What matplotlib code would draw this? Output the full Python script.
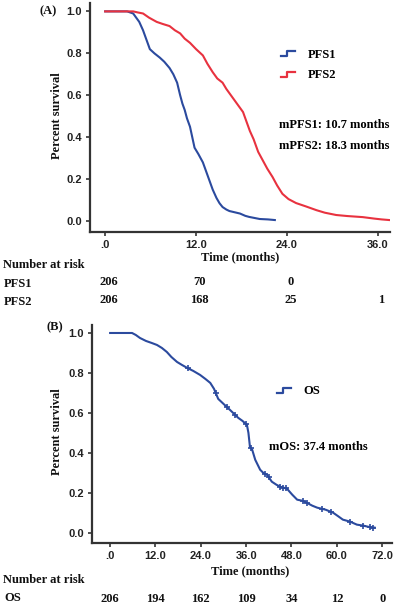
import numpy as np
import matplotlib
matplotlib.use("Agg")
import matplotlib.pyplot as plt
from matplotlib.lines import Line2D
from matplotlib.legend_handler import HandlerBase
from matplotlib.transforms import blended_transform_factory

# ---- data ----
pfs1_t = [0, 2.9, 3.3, 3.7, 4.1, 4.5, 5.0, 5.4, 5.9, 6.5, 7.2, 7.8, 8.5, 9.0, 9.5,
          9.9, 10.2, 10.5, 10.8, 11.2, 11.5, 11.8, 12.3, 12.9, 13.3, 13.8, 14.2,
          14.7, 15.1, 15.5, 16.0, 16.4, 17.1, 17.8, 18.5, 19.0, 19.7, 20.4, 21.5, 22.4]
pfs1_s = [1.0, 1.0, 0.995, 0.99, 0.97, 0.95, 0.91, 0.87, 0.82, 0.80, 0.78, 0.76, 0.73,
          0.70, 0.66, 0.60, 0.56, 0.53, 0.49, 0.45, 0.40, 0.35, 0.32, 0.28, 0.24, 0.19,
          0.15, 0.11, 0.085, 0.067, 0.055, 0.048, 0.042, 0.036, 0.025, 0.02, 0.015,
          0.01, 0.008, 0.005]

pfs2_t = [0, 3.7, 4.3, 5.0, 5.8, 6.8, 7.6, 8.5, 9.2, 9.9, 10.5, 11.2, 12.0, 12.9, 13.5,
          14.2, 14.8, 15.5, 16.0, 16.4, 17.0, 17.6, 18.2, 18.7, 19.1, 19.6, 20.2, 20.8,
          21.4, 22.1, 22.7, 23.4, 24.2, 25.2, 26.5, 27.9, 29.0, 30.5, 32.0, 34.0, 35.5,
          36.5, 37.5]
pfs2_s = [1.0, 1.0, 0.995, 0.99, 0.97, 0.95, 0.94, 0.93, 0.91, 0.895, 0.87, 0.85, 0.82,
          0.79, 0.75, 0.71, 0.68, 0.66, 0.63, 0.61, 0.58, 0.55, 0.52, 0.47, 0.43, 0.39,
          0.33, 0.29, 0.25, 0.21, 0.17, 0.13, 0.105, 0.086, 0.07, 0.052, 0.04, 0.029,
          0.024, 0.019, 0.012, 0.008, 0.005]

os_t = [0, 5.8, 6.8, 7.9, 9.5, 11.0, 12.4, 13.7, 15.0, 16.2, 17.7, 19.0, 20.4, 22.0,
        23.8, 25.2, 26.5, 27.5, 28.6, 30.0, 31.7, 32.8, 33.9, 35.0, 36.2, 36.6, 37.0,
        37.6, 38.4, 39.7, 40.5, 41.5, 42.8, 44.0, 45.0, 46.8, 48.2, 49.5, 50.8, 52.0,
        53.5, 54.8, 57.0, 59.0, 60.5, 61.6, 63.5, 65.3, 67.0, 69.3, 70.0]
os_s = [1.0, 1.0, 0.99, 0.975, 0.96, 0.95, 0.94, 0.925, 0.905, 0.88, 0.855, 0.84, 0.825,
        0.81, 0.79, 0.77, 0.75, 0.72, 0.67, 0.645, 0.615, 0.595, 0.575, 0.56, 0.54, 0.50,
        0.43, 0.415, 0.365, 0.315, 0.30, 0.29, 0.255, 0.24, 0.23, 0.22, 0.19, 0.165,
        0.16, 0.15, 0.135, 0.125, 0.115, 0.10, 0.08, 0.065, 0.055, 0.04, 0.035, 0.025,
        0.025]
os_censor = [20.5, 28.0, 31.0, 33.0, 36.0, 37.2, 41.0, 42.0, 45.0, 45.8, 46.6, 51.0,
             52.0, 56.0, 58.5, 63.5, 67.0, 68.8, 69.7]

risk_times_a = [0, 12, 24, 36]
risk_pfs1 = ["206", "70", "0", ""]
risk_pfs2 = ["206", "168", "25", "1"]
risk_times_b = [0, 12, 24, 36, 48, 60, 72]
risk_os = ["206", "194", "162", "109", "34", "12", "0"]

BLUE = "#2b4a9e"
RED = "#e8323f"
SERIF = "Liberation Serif"
SANS = "Liberation Sans"
FS = 9


class StepHandler(HandlerBase):
    """Small step glyph for the legend, like SPSS draws."""
    def create_artists(self, legend, orig, xd, yd, w, h, fontsize, trans):
        xs = [xd + 0, xd + 0.45 * w, xd + 0.45 * w, xd + w]
        ys = [yd + 0.2 * h, yd + 0.2 * h, yd + 0.7 * h, yd + 0.7 * h]
        ln = Line2D(xs, ys, color=orig.get_color(), lw=1.6, transform=trans)
        return [ln]


def style_axes(ax, xticks, xlim):
    for side in ["top", "right"]:
        ax.spines[side].set_visible(False)
    for side in ["left", "bottom"]:
        ax.spines[side].set_linewidth(1.6)
        ax.spines[side].set_color("#333333")
    ax.set_xlim(*xlim)
    ax.set_ylim(-0.052, 1.04)
    ax.set_yticks([0, 0.2, 0.4, 0.6, 0.8, 1.0])
    ax.set_yticklabels(["0.0", "0.2", "0.4", "0.6", "0.8", "1.0"])
    ax.set_xticks(xticks)
    ax.set_xticklabels([".0"] + [f"{v:.1f}" for v in xticks[1:]])
    ax.tick_params(length=3, width=1.2, color="#333333", pad=3)
    for lab in ax.get_xticklabels() + ax.get_yticklabels():
        lab.set_fontfamily(SANS)
        lab.set_fontweight("bold")
        lab.set_fontsize(8)
        lab.set_color("#222222")


fig = plt.figure(figsize=(3.97, 6.10), dpi=100)
H = 610.0
W = 397.0

# ---- panel A ----
axA = fig.add_axes([90 / W, 1 - 232 / H, 300 / W, 229 / H])
axA.plot(pfs1_t, pfs1_s, color=BLUE, lw=1.5, label="PFS1")
axA.plot(pfs2_t, pfs2_s, color=RED, lw=1.5, label="PFS2")
style_axes(axA, [0, 12, 24, 36], (-2.0, 37.6))
axA.legend(handler_map={Line2D: StepHandler()}, frameon=False,
           loc="upper left", bbox_to_anchor=(0.6, 0.85), handlelength=1.1,
           handletextpad=1.0, labelspacing=0.7,
           prop={"family": SERIF, "weight": "bold", "size": FS})
axA.text(0.63, 0.467, "mPFS1: 10.7 months", transform=axA.transAxes,
         family=SERIF, weight="bold", fontsize=FS, va="center")
axA.text(0.63, 0.375, "mPFS2: 18.3 months", transform=axA.transAxes,
         family=SERIF, weight="bold", fontsize=FS, va="center")

# ---- panel B ----
axB = fig.add_axes([92 / W, 1 - 543 / H, 300 / W, 218 / H])
axB.plot(os_t, os_s, color=BLUE, lw=1.5, label="OS")
axB.plot(os_censor, np.interp(os_censor, os_t, os_s), ls="none", marker="+",
         ms=5, mew=1.2, color=BLUE)
style_axes(axB, [0, 12, 24, 36, 48, 60, 72], (-4.8, 74.6))
axB.legend(handles=axB.lines[:1], handler_map={Line2D: StepHandler()}, frameon=False,
           loc="upper left", bbox_to_anchor=(0.58, 0.775), handlelength=1.1,
           handletextpad=1.0,
           prop={"family": SERIF, "weight": "bold", "size": FS})
axB.text(0.59, 0.44, "mOS: 37.4 months", transform=axB.transAxes,
         family=SERIF, weight="bold", fontsize=FS, va="center")

# ---- shared labels ----
txt = dict(family=SERIF, weight="bold", fontsize=FS, color="#111111")
fig.text(48 / W, 1 - 11 / H, "(A)", ha="center", va="center", **txt)
fig.text(55 / W, 1 - 327 / H, "(B)", ha="center", va="center", **txt)
fig.text(57 / W, 1 - 116 / H, "Percent survival", rotation=90, ha="center",
         va="center", **txt)
fig.text(57 / W, 1 - 432 / H, "Percent survival", rotation=90, ha="center",
         va="center", **txt)
fig.text(240 / W, 1 - 257 / H, "Time (months)", ha="center", va="center", **txt)
fig.text(250 / W, 1 - 571 / H, "Time (months)", ha="center", va="center", **txt)

# ---- number at risk tables ----
fig.text(3 / W, 1 - 265 / H, "Number at risk", ha="left", va="center", **txt)
fig.text(4 / W, 1 - 284 / H, "PFS1", ha="left", va="center", **txt)
fig.text(4 / W, 1 - 302 / H, "PFS2", ha="left", va="center", **txt)
trA = blended_transform_factory(axA.transData, fig.transFigure)
for t, a, b in zip(risk_times_a, risk_pfs1, risk_pfs2):
    fig.text(t + 0.5, 1 - 282 / H, a, ha="center", va="center", transform=trA, **txt)
    fig.text(t + 0.5, 1 - 300 / H, b, ha="center", va="center", transform=trA, **txt)

fig.text(3 / W, 1 - 580 / H, "Number at risk", ha="left", va="center", **txt)
fig.text(4 / W, 1 - 598 / H, "OS", ha="left", va="center", **txt)
trB = blended_transform_factory(axB.transData, fig.transFigure)
for t, v in zip(risk_times_b, risk_os):
    fig.text(t, 1 - 599 / H, v, ha="center", va="center", transform=trB, **txt)

fig.savefig("out.png", dpi=100)
